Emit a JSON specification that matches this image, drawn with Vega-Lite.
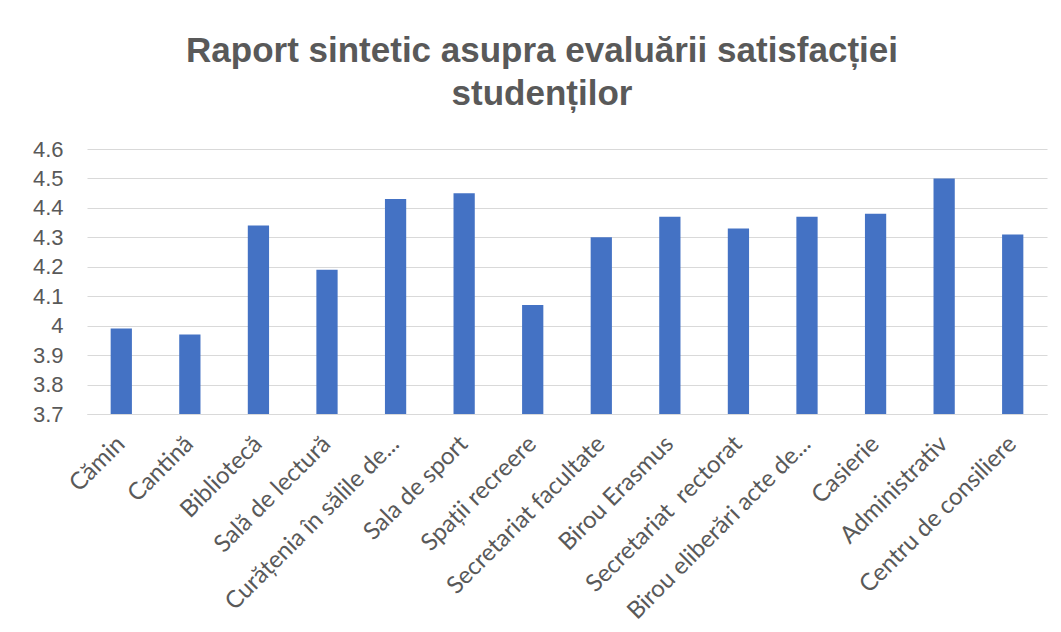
{
  "$schema": "https://vega.github.io/schema/vega-lite/v6.json",
  "autosize": {"type": "none"},
  "width": 960,
  "height": 265,
  "padding": {"left": 87, "top": 149, "right": 14, "bottom": 218},
  "background": "white",
  "title": {
    "text": ["Raport sintetic asupra evaluării satisfacției", "studenților"],
    "font": "Liberation Sans",
    "fontSize": 35,
    "fontWeight": "bold",
    "color": "#595959",
    "anchor": "middle",
    "dx": -25,
    "offset": 26,
    "lineHeight": 43
  },
  "data": {
    "values": [
      {"cat": "Cămin", "v": 3.99},
      {"cat": "Cantină", "v": 3.97},
      {"cat": "Bibliotecă", "v": 4.34},
      {"cat": "Sală de lectură", "v": 4.19},
      {"cat": "Curățenia în sălile de...", "v": 4.43},
      {"cat": "Sala de sport", "v": 4.45},
      {"cat": "Spații recreere", "v": 4.07},
      {"cat": "Secretariat facultate", "v": 4.30},
      {"cat": "Birou Erasmus", "v": 4.37},
      {"cat": "Secretariat\u00a0 rectorat", "v": 4.33},
      {"cat": "Birou eliberări acte de...", "v": 4.37},
      {"cat": "Casierie", "v": 4.38},
      {"cat": "Administrativ", "v": 4.50},
      {"cat": "Centru de consiliere", "v": 4.31}
    ]
  },
  "mark": {"type": "bar", "color": "#4472C4", "clip": true},
  "encoding": {
    "x": {
      "field": "cat",
      "type": "nominal",
      "sort": null,
      "scale": {"paddingInner": 0.69, "paddingOuter": 0.345},
      "axis": {
        "title": null,
        "labelAngle": -45,
        "labelAlign": "right",
        "labelBaseline": "middle",
        "labelFont": "Lato",
        "labelFontSize": 24,
        "labelColor": "#595959",
        "labelPadding": 26,
        "ticks": false,
        "domain": true,
        "domainColor": "#d9d9d9",
        "labelLimit": 400
      }
    },
    "y": {
      "field": "v",
      "type": "quantitative",
      "scale": {"domain": [3.7, 4.6], "zero": false, "nice": false},
      "axis": {
        "title": null,
        "values": [3.7, 3.8, 3.9, 4.0, 4.1, 4.2, 4.3, 4.4, 4.5, 4.6],
        "format": ".1~f",
        "labelFont": "Liberation Sans",
        "labelFontSize": 22,
        "labelColor": "#595959",
        "labelPadding": 24,
        "ticks": false,
        "domain": false,
        "grid": true,
        "gridColor": "#d9d9d9"
      }
    }
  },
  "config": {"view": {"stroke": null}}
}
